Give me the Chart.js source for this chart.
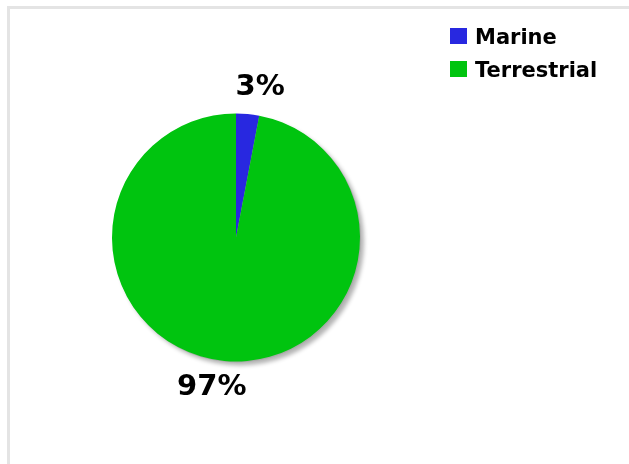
<!DOCTYPE html>
<html>
<head>
<meta charset="utf-8">
<script src="https://cdn.jsdelivr.net/npm/chart.js@4"></script>
<style>
html,body{margin:0;padding:0;background:#fff;width:629px;height:464px;overflow:hidden;}
#frame{position:absolute;left:7px;top:6px;width:700px;height:600px;border-left:3px solid #e4e4e4;border-top:3px solid #e4e4e4;}
#wrap{position:absolute;left:0;top:0;width:629px;height:464px;}
</style>
</head>
<body>
<div id="frame"></div>
<div id="wrap"><canvas id="c" width="629" height="464"></canvas></div>
<script>
const categories = ["Marine", "Terrestrial"];
const values = [3, 97];
const pctLabels = ["3%", "97%"];
const colors = ["#2828e0", "#00c40f"];

const FONT = '"DejaVu Sans", Verdana, sans-serif';

const shadowPlugin = {
  id: 'pieShadow',
  beforeDatasetsDraw(chart) {
    const arcs = chart.getDatasetMeta(0).data;
    if (!arcs.length) return;
    const a = arcs[0];
    const ctx = chart.ctx;
    ctx.save();
    ctx.shadowColor = 'rgba(0,0,0,0.3)';
    ctx.shadowBlur = 4;
    ctx.shadowOffsetX = 3;
    ctx.shadowOffsetY = 3;
    ctx.fillStyle = 'rgba(170,170,170,1)';
    ctx.beginPath();
    ctx.arc(a.x + 1, a.y + 1, a.outerRadius, 0, Math.PI * 2);
    ctx.fill();
    ctx.restore();
  }
};

const labelPlugin = {
  id: 'pctLabels',
  afterDatasetsDraw(chart) {
    const ctx = chart.ctx;
    const arcs = chart.getDatasetMeta(0).data;
    ctx.save();
    ctx.font = 'bold 29px ' + FONT;
    ctx.fillStyle = '#000';
    ctx.textAlign = 'center';
    ctx.textBaseline = 'middle';
    arcs.forEach((a, i) => {
      const mid = (a.startAngle + a.endAngle) / 2;
      const r = a.outerRadius + 27;
      const cx = Math.cos(mid);
      const x = a.x + cx * r + Math.sign(cx) * 10;
      const y = a.y + Math.sin(mid) * r;
      ctx.fillText(pctLabels[i], x, y);
    });
    ctx.restore();
  }
};

const legendPlugin = {
  id: 'customLegend',
  afterDraw(chart) {
    const ctx = chart.ctx;
    ctx.save();
    ctx.font = 'bold 21px ' + FONT;
    ctx.textBaseline = 'alphabetic';
    ctx.textAlign = 'left';
    categories.forEach((name, i) => {
      const top = 28 + i * 33;
      ctx.fillStyle = colors[i];
      ctx.fillRect(450, top, 17, 16);
      ctx.fillStyle = '#000';
      ctx.fillText(name, 475, top + 16);
    });
    ctx.restore();
  }
};

new Chart(document.getElementById('c'), {
  type: 'pie',
  data: {
    labels: categories,
    datasets: [{
      data: values,
      backgroundColor: colors,
      borderWidth: 0,
      hoverOffset: 0
    }]
  },
  options: {
    responsive: false,
    animation: false,
    layout: { padding: { left: 112, right: 269, top: 113, bottom: 102 } },
    plugins: {
      legend: { display: false },
      tooltip: { enabled: false }
    }
  },
  plugins: [shadowPlugin, labelPlugin, legendPlugin]
});
</script>
</body>
</html>
